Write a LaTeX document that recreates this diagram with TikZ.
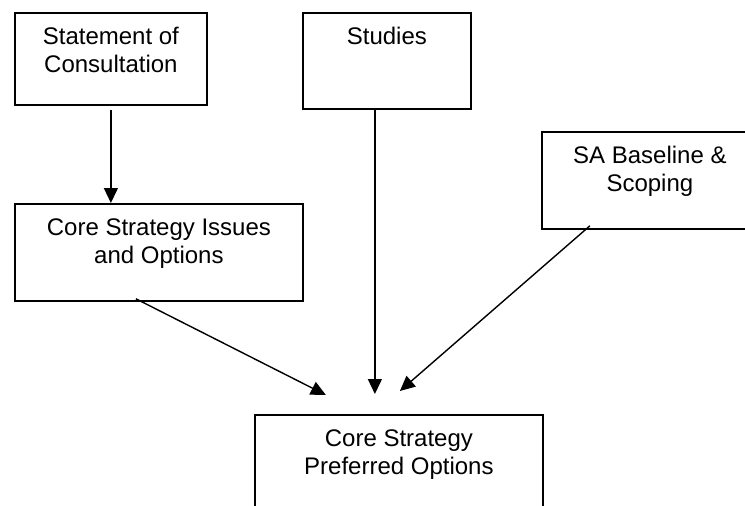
\documentclass[tikz,border=0pt]{standalone}
\usepackage{fontspec}
\setmainfont{Liberation Sans}
\usetikzlibrary{arrows.meta}
\newcommand{\boxtext}[3]{\parbox[t][#2][t]{#1}{\vspace*{12.75pt}\centering\strut #3\par}}

\begin{document}
\begin{tikzpicture}[x=1pt, y=-1pt,
    box/.style={draw, line width=1.8pt, inner sep=0pt, anchor=north west,
                font=\fontsize{24}{27.5}\selectfont},
    arr/.style={-{Triangle[length=15pt, width=14pt]}, line width=1.4pt}
  ]
    \useasboundingbox (0,0) rectangle (745,506);
    \clip (0,0) rectangle (745,506);
    \node[box] (soc) at (14,12)
      {\boxtext{192pt}{92pt}{Statement of\\Consultation}};
    \node[box] (studies) at (302,12)
      {\boxtext{168pt}{96pt}{Studies}};
    \node[box] (sabase) at (541,131)
      {\boxtext{216pt}{97pt}{SA Baseline \&\\Scoping}};
    \node[box] (csio) at (14,203)
      {\boxtext{288pt}{97pt}{Core Strategy Issues\\and Options}};
    \node[box] (cspo) at (254,414)
      {\boxtext{288pt}{97pt}{Core Strategy\\Preferred Options}};
    \draw[arr] ([yshift=-4pt]soc.south) -- (soc.south |- csio.north);
    \draw[arr] ([xshift=-12pt]studies.south) -- ([xshift=-24pt, yshift=20pt]cspo.north);
    \draw[arr] ([xshift=-60pt, yshift=4pt]sabase.south) -- ([xshift=1pt, yshift=23pt]cspo.north);
    \draw[arr] ([xshift=-23pt, yshift=3pt]csio.south) -- ([xshift=-73pt, yshift=19pt]cspo.north);
  \end{tikzpicture}
\end{document}
